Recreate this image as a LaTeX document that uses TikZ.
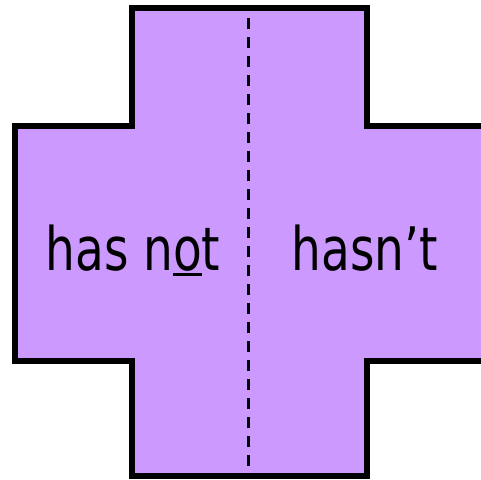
\documentclass[tikz,border=0pt]{standalone}
\usepackage{fontspec}
\setmainfont{DejaVu Sans Condensed}
\definecolor{crossfill}{HTML}{CC99FF}
\newcommand\myul[1]{\setbox0\hbox{#1}\rlap{\vrule height -3pt depth 6pt width \wd0}\box0}
\begin{document}
\begin{tikzpicture}[x=1pt,y=-1pt,
  crossshape/.style={fill=crossfill,draw=black,line width=6pt,line join=miter},
  divider/.style={draw=black,line width=3pt,dash pattern=on 11pt off 8pt,dash phase=9pt},
  word/.style={inner sep=0pt,anchor=base,font=\fontsize{60}{72}\selectfont,xscale=0.87,transform shape}]
\useasboundingbox (0,0) rectangle (481,479);
\clip (0,0) rectangle (481,479);
\path[crossshape] (132,8) -- (367,8) -- (367,125.5) -- (490,125.5) -- (490,360.5) -- (367,360.5) -- (367,476) -- (132,476) -- (132,360.5) -- (14.5,360.5) -- (14.5,125.5) -- (132,125.5) -- cycle;
\coordinate (dtop) at (248,8);
\coordinate (dbot) at (248,476);
\path[divider] (dtop) -- (dbot);
\path[draw=black,line width=6pt] (132,8) -- (367,8) (132,476) -- (367,476);
\node[word] (left) at (133,270) {has n\myul{o}t};
\node[word] (right) at (365,270) {hasn’t};
\end{tikzpicture}
\end{document}
